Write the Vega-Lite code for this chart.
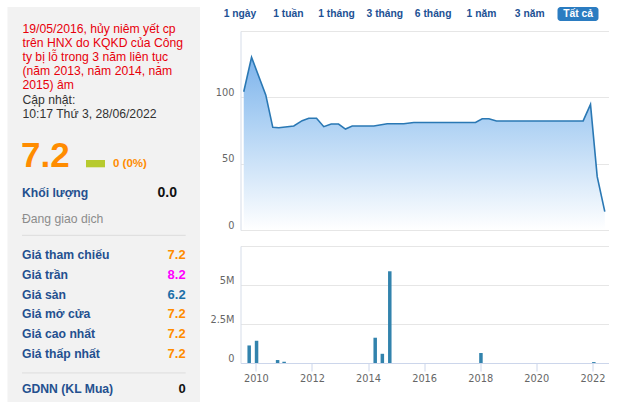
{
  "$schema": "https://vega.github.io/schema/vega-lite/v6.json",
  "padding": {"left": 7.5, "top": 7, "right": 0, "bottom": 0},
  "background": "#ffffff",
  "config": {"view": {"stroke": null}, "font": "Liberation Sans"},
  "datasets": {
    "price": [
      {"date": "2009-09-29", "price": 104.2},
      {"date": "2010-01-06", "price": 130.2},
      {"date": "2010-07-05", "price": 101.8},
      {"date": "2010-10-02", "price": 77.4},
      {"date": "2010-12-17", "price": 77.1},
      {"date": "2011-06-25", "price": 78.4},
      {"date": "2011-10-09", "price": 82.4},
      {"date": "2012-01-01", "price": 84.2},
      {"date": "2012-04-08", "price": 84.2},
      {"date": "2012-07-09", "price": 77.9},
      {"date": "2012-10-11", "price": 79.9},
      {"date": "2013-01-12", "price": 79.9},
      {"date": "2013-04-10", "price": 76.1},
      {"date": "2013-07-04", "price": 78.4},
      {"date": "2014-04-04", "price": 78.4},
      {"date": "2014-09-21", "price": 80.1},
      {"date": "2015-04-18", "price": 80.1},
      {"date": "2015-08-23", "price": 81.0},
      {"date": "2017-10-13", "price": 81.0},
      {"date": "2018-01-06", "price": 83.9},
      {"date": "2018-04-01", "price": 83.9},
      {"date": "2018-07-06", "price": 82.2},
      {"date": "2021-07-08", "price": 82.2},
      {"date": "2021-10-09", "price": 94.7},
      {"date": "2022-01-02", "price": 40.2},
      {"date": "2022-04-08", "price": 13.8}
    ],
    "volume": [
      {"date": "2009-10-06", "volume": 1125000},
      {"date": "2010-01-10", "volume": 1426000},
      {"date": "2010-10-11", "volume": 190000},
      {"date": "2011-01-04", "volume": 80000},
      {"date": "2014-04-04", "volume": 1620000},
      {"date": "2014-07-06", "volume": 590000},
      {"date": "2014-10-11", "volume": 5880000},
      {"date": "2018-01-10", "volume": 640000},
      {"date": "2022-01-19", "volume": 60000}
    ],
    "table": [
      {"label": "Giá tham chiếu", "value": 7.2, "kind": "ref"},
      {"label": "Giá trần", "value": 8.2, "kind": "ceiling"},
      {"label": "Giá sàn", "value": 6.2, "kind": "floor"},
      {"label": "Giá mở cửa", "value": 7.2, "kind": "ref"},
      {"label": "Giá cao nhất", "value": 7.2, "kind": "ref"},
      {"label": "Giá thấp nhất", "value": 7.2, "kind": "ref"}
    ],
    "ranges": [
      {"range": "1 ngày", "state": "normal"},
      {"range": "1 tuần", "state": "normal"},
      {"range": "1 tháng", "state": "normal"},
      {"range": "3 tháng", "state": "normal"},
      {"range": "6 tháng", "state": "normal"},
      {"range": "1 năm", "state": "normal"},
      {"range": "3 năm", "state": "normal"},
      {"range": "Tất cả", "state": "selected"}
    ]
  },
  "bounds": "flush",
  "spacing": 40,
  "resolve": {"scale": {"color": "independent"}},
  "hconcat": [
    {
      "width": 192.5,
      "height": 395,
      "view": {"fill": "#f2f2f2", "stroke": null},
      "layer": [
        {
          "data": {"values": [{"note": "19/05/2016, hủy niêm yết cp\ntrên HNX do KQKD của Công\nty bị lỗ trong 3 năm liên tục\n(năm 2013, năm 2014, năm\n2015) âm"}]},
          "mark": {"type": "text", "align": "left", "baseline": "alphabetic", "fontSize": 12.2, "lineHeight": 14, "lineBreak": "\n", "color": "#e8000b", "dx": 0.5, "dy": -5.4},
          "encoding": {
            "x": {"datum": "left", "type": "nominal", "scale": {"type": "point", "domain": ["left", "c1", "c2", "c3", "c4", "c5", "c6", "c7", "right"], "range": [14.5, 178.2], "padding": 0}, "axis": null},
            "y": {"datum": "notice", "type": "nominal", "scale": {"type": "point", "domain": ["top", "notice", "l2", "l3", "update", "l5", "l6", "price", "l8", "Khối lượng", "status", "sep1", "Giá tham chiếu", "Giá trần", "Giá sàn", "Giá mở cửa", "Giá cao nhất", "Giá thấp nhất", "sep2", "GDNN (KL Mua)"], "range": [12.08, 385.62], "padding": 0}, "axis": null},
            "text": {"field": "note", "type": "nominal"}
          }
        },
        {
          "data": {"values": [{"updated": "Cập nhật:\n10:17 Thứ 3, 28/06/2022"}]},
          "mark": {"type": "text", "align": "left", "baseline": "alphabetic", "fontSize": 12.2, "lineHeight": 14, "lineBreak": "\n", "color": "#333333", "dx": 0.5, "dy": 6},
          "encoding": {
            "x": {"datum": "left", "type": "nominal", "scale": {"type": "point", "domain": ["left", "c1", "c2", "c3", "c4", "c5", "c6", "c7", "right"], "range": [14.5, 178.2], "padding": 0}, "axis": null},
            "y": {"datum": "update", "type": "nominal", "scale": {"type": "point", "domain": ["top", "notice", "l2", "l3", "update", "l5", "l6", "price", "l8", "Khối lượng", "status", "sep1", "Giá tham chiếu", "Giá trần", "Giá sàn", "Giá mở cửa", "Giá cao nhất", "Giá thấp nhất", "sep2", "GDNN (KL Mua)"], "range": [12.08, 385.62], "padding": 0}, "axis": null},
            "text": {"field": "updated", "type": "nominal"}
          }
        },
        {
          "data": {"values": [{"price": 7.2}]},
          "mark": {"type": "text", "align": "left", "baseline": "alphabetic", "fontSize": 35, "fontWeight": "bold", "color": "#ff8c00", "dx": -1, "dy": 10},
          "encoding": {
            "x": {"datum": "left", "type": "nominal", "scale": {"type": "point", "domain": ["left", "c1", "c2", "c3", "c4", "c5", "c6", "c7", "right"], "range": [14.5, 178.2], "padding": 0}, "axis": null},
            "y": {"datum": "price", "type": "nominal", "scale": {"type": "point", "domain": ["top", "notice", "l2", "l3", "update", "l5", "l6", "price", "l8", "Khối lượng", "status", "sep1", "Giá tham chiếu", "Giá trần", "Giá sàn", "Giá mở cửa", "Giá cao nhất", "Giá thấp nhất", "sep2", "GDNN (KL Mua)"], "range": [12.08, 385.62], "padding": 0}, "axis": null},
            "text": {"field": "price", "type": "quantitative", "format": ".1f"}
          }
        },
        {
          "data": {"values": [{"change": 0}]},
          "mark": {"type": "point", "shape": "M-1.785,0.33H0.115V1.06H-1.785Z", "size": 400, "filled": true, "opacity": 1, "color": "#b7ca2e", "strokeWidth": 0},
          "encoding": {
            "x": {"datum": "c4", "type": "nominal", "scale": {"type": "point", "domain": ["left", "c1", "c2", "c3", "c4", "c5", "c6", "c7", "right"], "range": [14.5, 178.2], "padding": 0}, "axis": null},
            "y": {"datum": "price", "type": "nominal", "scale": {"type": "point", "domain": ["top", "notice", "l2", "l3", "update", "l5", "l6", "price", "l8", "Khối lượng", "status", "sep1", "Giá tham chiếu", "Giá trần", "Giá sàn", "Giá mở cửa", "Giá cao nhất", "Giá thấp nhất", "sep2", "GDNN (KL Mua)"], "range": [12.08, 385.62], "padding": 0}, "axis": null}
          }
        },
        {
          "data": {"values": [{"change": "0 (0%)"}]},
          "mark": {"type": "text", "align": "left", "baseline": "alphabetic", "fontSize": 11.5, "fontWeight": "bold", "color": "#ff8c00", "dx": -11.3, "dy": 10.6},
          "encoding": {
            "x": {"datum": "c5", "type": "nominal", "scale": {"type": "point", "domain": ["left", "c1", "c2", "c3", "c4", "c5", "c6", "c7", "right"], "range": [14.5, 178.2], "padding": 0}, "axis": null},
            "y": {"datum": "price", "type": "nominal", "scale": {"type": "point", "domain": ["top", "notice", "l2", "l3", "update", "l5", "l6", "price", "l8", "Khối lượng", "status", "sep1", "Giá tham chiếu", "Giá trần", "Giá sàn", "Giá mở cửa", "Giá cao nhất", "Giá thấp nhất", "sep2", "GDNN (KL Mua)"], "range": [12.08, 385.62], "padding": 0}, "axis": null},
            "text": {"field": "change", "type": "nominal"}
          }
        },
        {
          "data": {"values": [{"label": "Khối lượng", "volume": 0}]},
          "mark": {"type": "text", "align": "left", "baseline": "alphabetic", "fontSize": 12.2, "fontWeight": "bold", "color": "#24508f", "dy": 1.3},
          "encoding": {
            "x": {"datum": "left", "type": "nominal", "scale": {"type": "point", "domain": ["left", "c1", "c2", "c3", "c4", "c5", "c6", "c7", "right"], "range": [14.5, 178.2], "padding": 0}, "axis": null},
            "y": {"field": "label", "type": "nominal", "scale": {"type": "point", "domain": ["top", "notice", "l2", "l3", "update", "l5", "l6", "price", "l8", "Khối lượng", "status", "sep1", "Giá tham chiếu", "Giá trần", "Giá sàn", "Giá mở cửa", "Giá cao nhất", "Giá thấp nhất", "sep2", "GDNN (KL Mua)"], "range": [12.08, 385.62], "padding": 0}, "axis": null},
            "text": {"field": "label", "type": "nominal"}
          }
        },
        {
          "data": {"values": [{"label": "Khối lượng", "volume": 0}]},
          "mark": {"type": "text", "align": "right", "baseline": "alphabetic", "fontSize": 14, "fontWeight": "bold", "color": "#111111", "dx": -8.7, "dy": 0.7},
          "encoding": {
            "x": {"datum": "right", "type": "nominal", "scale": {"type": "point", "domain": ["left", "c1", "c2", "c3", "c4", "c5", "c6", "c7", "right"], "range": [14.5, 178.2], "padding": 0}, "axis": null},
            "y": {"field": "label", "type": "nominal", "scale": {"type": "point", "domain": ["top", "notice", "l2", "l3", "update", "l5", "l6", "price", "l8", "Khối lượng", "status", "sep1", "Giá tham chiếu", "Giá trần", "Giá sàn", "Giá mở cửa", "Giá cao nhất", "Giá thấp nhất", "sep2", "GDNN (KL Mua)"], "range": [12.08, 385.62], "padding": 0}, "axis": null},
            "text": {"field": "volume", "type": "quantitative", "format": ".1f"}
          }
        },
        {
          "data": {"values": [{"status": "Đang giao dịch"}]},
          "mark": {"type": "text", "align": "left", "baseline": "alphabetic", "fontSize": 12.2, "color": "#8c8c8c", "dy": 7},
          "encoding": {
            "x": {"datum": "left", "type": "nominal", "scale": {"type": "point", "domain": ["left", "c1", "c2", "c3", "c4", "c5", "c6", "c7", "right"], "range": [14.5, 178.2], "padding": 0}, "axis": null},
            "y": {"datum": "status", "type": "nominal", "scale": {"type": "point", "domain": ["top", "notice", "l2", "l3", "update", "l5", "l6", "price", "l8", "Khối lượng", "status", "sep1", "Giá tham chiếu", "Giá trần", "Giá sàn", "Giá mở cửa", "Giá cao nhất", "Giá thấp nhất", "sep2", "GDNN (KL Mua)"], "range": [12.08, 385.62], "padding": 0}, "axis": null},
            "text": {"field": "status", "type": "nominal"}
          }
        },
        {
          "data": {"values": [{"line": "sep1"}, {"line": "sep2"}]},
          "mark": {"type": "rule", "color": "#dddddd", "strokeWidth": 1},
          "encoding": {
            "x": {"datum": "left", "type": "nominal", "scale": {"type": "point", "domain": ["left", "c1", "c2", "c3", "c4", "c5", "c6", "c7", "right"], "range": [14.5, 178.2], "padding": 0}, "axis": null},
            "x2": {"datum": "right"},
            "y": {"field": "line", "type": "nominal", "scale": {"type": "point", "domain": ["top", "notice", "l2", "l3", "update", "l5", "l6", "price", "l8", "Khối lượng", "status", "sep1", "Giá tham chiếu", "Giá trần", "Giá sàn", "Giá mở cửa", "Giá cao nhất", "Giá thấp nhất", "sep2", "GDNN (KL Mua)"], "range": [12.08, 385.62], "padding": 0}, "axis": null}
          }
        },
        {
          "data": {"name": "table"},
          "mark": {"type": "text", "align": "left", "baseline": "alphabetic", "fontSize": 12.2, "fontWeight": "bold", "color": "#24508f", "dy": 4.3},
          "encoding": {
            "x": {"datum": "left", "type": "nominal", "scale": {"type": "point", "domain": ["left", "c1", "c2", "c3", "c4", "c5", "c6", "c7", "right"], "range": [14.5, 178.2], "padding": 0}, "axis": null},
            "y": {"field": "label", "type": "nominal", "scale": {"type": "point", "domain": ["top", "notice", "l2", "l3", "update", "l5", "l6", "price", "l8", "Khối lượng", "status", "sep1", "Giá tham chiếu", "Giá trần", "Giá sàn", "Giá mở cửa", "Giá cao nhất", "Giá thấp nhất", "sep2", "GDNN (KL Mua)"], "range": [12.08, 385.62], "padding": 0}, "axis": null},
            "text": {"field": "label", "type": "nominal"}
          }
        },
        {
          "data": {"name": "table"},
          "mark": {"type": "text", "align": "right", "baseline": "alphabetic", "fontSize": 13, "fontWeight": "bold", "dy": 4.3},
          "encoding": {
            "x": {"datum": "right", "type": "nominal", "scale": {"type": "point", "domain": ["left", "c1", "c2", "c3", "c4", "c5", "c6", "c7", "right"], "range": [14.5, 178.2], "padding": 0}, "axis": null},
            "y": {"field": "label", "type": "nominal", "scale": {"type": "point", "domain": ["top", "notice", "l2", "l3", "update", "l5", "l6", "price", "l8", "Khối lượng", "status", "sep1", "Giá tham chiếu", "Giá trần", "Giá sàn", "Giá mở cửa", "Giá cao nhất", "Giá thấp nhất", "sep2", "GDNN (KL Mua)"], "range": [12.08, 385.62], "padding": 0}, "axis": null},
            "text": {"field": "value", "type": "quantitative", "format": ".1f"},
            "color": {"field": "kind", "type": "nominal", "scale": {"domain": ["ref", "ceiling", "floor"], "range": ["#ff8c00", "#ff00ff", "#1b6fa8"]}, "legend": null}
          }
        },
        {
          "data": {"values": [{"label": "GDNN (KL Mua)", "buy": 0}]},
          "mark": {"type": "text", "align": "left", "baseline": "alphabetic", "fontSize": 12.2, "fontWeight": "bold", "color": "#24508f", "dy": 0.1},
          "encoding": {
            "x": {"datum": "left", "type": "nominal", "scale": {"type": "point", "domain": ["left", "c1", "c2", "c3", "c4", "c5", "c6", "c7", "right"], "range": [14.5, 178.2], "padding": 0}, "axis": null},
            "y": {"field": "label", "type": "nominal", "scale": {"type": "point", "domain": ["top", "notice", "l2", "l3", "update", "l5", "l6", "price", "l8", "Khối lượng", "status", "sep1", "Giá tham chiếu", "Giá trần", "Giá sàn", "Giá mở cửa", "Giá cao nhất", "Giá thấp nhất", "sep2", "GDNN (KL Mua)"], "range": [12.08, 385.62], "padding": 0}, "axis": null},
            "text": {"field": "label", "type": "nominal"}
          }
        },
        {
          "data": {"values": [{"label": "GDNN (KL Mua)", "buy": 0}]},
          "mark": {"type": "text", "align": "right", "baseline": "alphabetic", "fontSize": 13, "fontWeight": "bold", "color": "#111111", "dy": 0.1},
          "encoding": {
            "x": {"datum": "right", "type": "nominal", "scale": {"type": "point", "domain": ["left", "c1", "c2", "c3", "c4", "c5", "c6", "c7", "right"], "range": [14.5, 178.2], "padding": 0}, "axis": null},
            "y": {"field": "label", "type": "nominal", "scale": {"type": "point", "domain": ["top", "notice", "l2", "l3", "update", "l5", "l6", "price", "l8", "Khối lượng", "status", "sep1", "Giá tham chiếu", "Giá trần", "Giá sàn", "Giá mở cửa", "Giá cao nhất", "Giá thấp nhất", "sep2", "GDNN (KL Mua)"], "range": [12.08, 385.62], "padding": 0}, "axis": null},
            "text": {"field": "buy", "type": "quantitative", "format": "d"}
          }
        }
      ]
    },
    {
      "bounds": "flush",
      "spacing": 10,
      "vconcat": [
        {
          "width": 368,
          "height": 14,
          "data": {"name": "ranges"},
          "encoding": {
            "x": {"field": "range", "type": "nominal", "scale": {"type": "band", "domain": ["1 ngày", "1 tuần", "1 tháng", "3 tháng", "6 tháng", "1 năm", "3 năm", "Tất cả"], "range": [-24.65, 361.65], "paddingInner": 0.151, "paddingOuter": 0.0755}, "axis": null},
            "y": {"datum": "bar", "type": "nominal", "scale": {"type": "band", "domain": ["bar"], "paddingInner": 0, "paddingOuter": 0}, "axis": null}
          },
          "layer": [
            {
              "transform": [{"filter": "datum.state === 'selected'"}],
              "mark": {"type": "rect", "fill": "#2b7cc1", "cornerRadius": 3}
            },
            {
              "transform": [{"filter": "datum.state === 'normal'"}],
              "mark": {"type": "text", "fontSize": 10.3, "fontWeight": "bold", "baseline": "middle", "fill": "#1d5194"},
              "encoding": {"text": {"field": "range", "type": "nominal"}}
            },
            {
              "transform": [{"filter": "datum.state === 'selected'"}],
              "mark": {"type": "text", "fontSize": 10.3, "fontWeight": "bold", "baseline": "middle", "fill": "#ffffff"},
              "encoding": {"text": {"field": "range", "type": "nominal"}}
            }
          ]
        },
        {
          "bounds": "flush",
          "spacing": 16,
          "vconcat": [
            {
              "width": 368,
              "height": 199,
              "data": {"name": "price"},
              "encoding": {
                "x": {"field": "date", "type": "temporal", "scale": {"type": "utc", "domain": [{"year": 2009, "month": 8, "date": 19, "utc": true}, {"year": 2022, "month": 5, "date": 25, "utc": true}], "nice": false}, "axis": null},
                "y": {"field": "price", "type": "quantitative", "scale": {"domain": [0, 150], "nice": false}, "axis": {"values": [0, 50, 100, 150], "labelExpr": "datum.value >= 150 ? '' : datum.label", "title": null, "grid": true, "gridColor": "#e6e6e6", "domain": true, "domainColor": "#d6dde9", "ticks": false, "tickSize": 0, "labelPadding": 6.5, "labelFont": "DejaVu Sans", "labelFontSize": 9.8, "labelColor": "#666666", "labelBaseline": "alphabetic", "labelOffset": -2}}
              },
              "layer": [
                {"mark": {"type": "area", "opacity": 1, "color": {"gradient": "linear", "x1": 0, "y1": 0, "x2": 0, "y2": 1, "stops": [{"offset": 0, "color": "#7db3eb"}, {"offset": 0.35, "color": "#aacff3"}, {"offset": 1, "color": "#ffffff"}]}}},
                {"mark": {"type": "line", "color": "#2a78b4", "strokeWidth": 1.6}}
              ]
            },
            {
              "width": 368,
              "height": 117,
              "data": {"name": "volume"},
              "mark": {"type": "bar", "width": 3.5, "color": "#3283ad"},
              "encoding": {
                "x": {"field": "date", "type": "temporal", "scale": {"type": "utc", "domain": [{"year": 2009, "month": 8, "date": 19, "utc": true}, {"year": 2022, "month": 5, "date": 25, "utc": true}], "nice": false}, "axis": {"values": [{"year": 2010, "utc": true}, {"year": 2012, "utc": true}, {"year": 2014, "utc": true}, {"year": 2016, "utc": true}, {"year": 2018, "utc": true}, {"year": 2020, "utc": true}, {"year": 2022, "utc": true}], "format": "%Y", "title": null, "grid": false, "domainColor": "#ccd6eb", "tickColor": "#ccd6eb", "tickSize": 8, "labelPadding": 2, "labelFont": "DejaVu Sans", "labelFontSize": 9.8, "labelColor": "#666666", "labelFlush": false, "labelOverlap": false}},
                "y": {"field": "volume", "type": "quantitative", "scale": {"domain": [0, 7500000], "nice": false}, "axis": {"values": [0, 2500000, 5000000, 7500000], "labelExpr": "datum.value >= 7500000 ? '' : datum.value == 0 ? '0' : (datum.value / 1000000) + 'M'", "title": null, "grid": true, "gridColor": "#e6e6e6", "domainColor": "#d6dde9", "ticks": false, "tickSize": 0, "labelPadding": 6.5, "labelFont": "DejaVu Sans", "labelFontSize": 9.8, "labelColor": "#666666", "labelBaseline": "alphabetic", "labelOffset": -2}}
              }
            }
          ]
        }
      ]
    }
  ]
}
